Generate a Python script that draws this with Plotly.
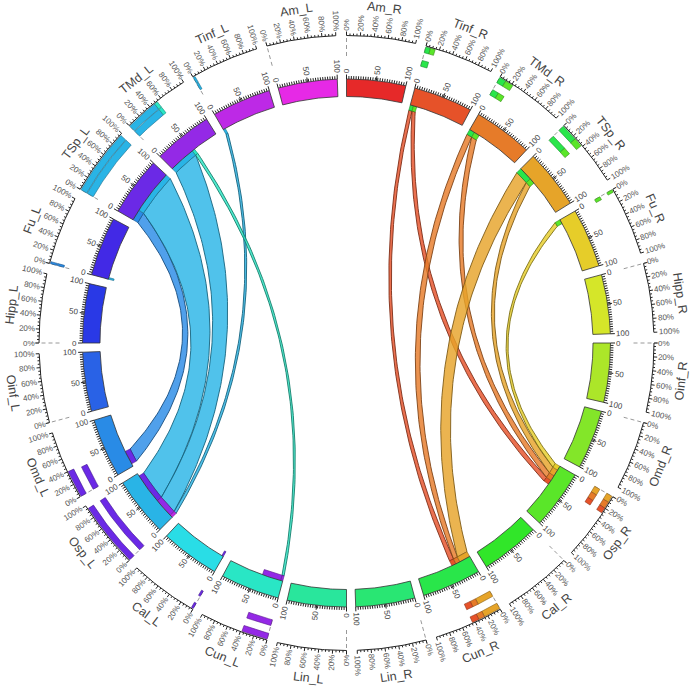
import numpy as np
import plotly.graph_objects as go

# ---------------- data ----------------
segments = ["Am_R", "Tinf_R", "TMd_R", "TSp_R", "Fu_R", "Hipp_R", "Oinf_R", "Omd_R",
            "Osp_R", "Cal_R", "Cun_R", "Lin_R", "Lin_L", "Cun_L", "Cal_L", "Osp_L",
            "Omd_L", "Oinf_L", "Hipp_L", "Fu_L", "TSp_L", "TMd_L", "Tinf_L", "Am_L"]
seg_colors = ["#E62929", "#E65229", "#E67B29", "#E6A429", "#E6CD29", "#D5E629",
              "#ACE629", "#83E629", "#5AE629", "#31E629", "#29E64A", "#29E673",
              "#29E69C", "#29E6C5", "#29DDE6", "#29B4E6", "#298BE6", "#2962E6",
              "#2939E6", "#4229E6", "#6B29E6", "#9429E6", "#BD29E6", "#E629E6"]
seg_tick_labels = [0, 50, 100]
seg_minor_ticks = list(range(0, 101, 4)) + [50]
pct_values = [0, 20, 40, 60, 80, 100]
pct_labels = ["0%", "20%", "40%", "60%", "80%", "100%"]
pct_minor = list(range(0, 101, 5))

# chords: end A (segment, start, end) -> end B (segment, start, end), coloured by chord_col
chord_a_seg = ["TSp_L", "TSp_L", "TMd_L", "Tinf_L", "TMd_L",
               "Tinf_R", "Tinf_R", "TMd_R", "TMd_R", "TSp_R", "TSp_R", "Fu_R"]
chord_a_start = [0, 20, 0, 0, 48, 0, 6, 0, 10, 0, 25, 0]
chord_a_end = [20, 100, 48, 4, 53, 6, 12, 10, 20, 25, 35, 8]
chord_b_seg = ["Omd_L", "Osp_L", "Osp_L", "Osp_L", "Cun_L",
               "Cun_R", "Osp_R", "Cun_R", "Osp_R", "Cun_R", "Osp_R", "Osp_R"]
chord_b_start = [5, 40, 5, 0, 0, 28, 30, 20, 20, 0, 8, 0]
chord_b_end = [30, 95, 40, 5, 4, 36, 38, 28, 30, 20, 20, 8]
chord_col = ["Omd_L", "Osp_L", "Osp_L", "Osp_L", "Cun_L",
             "Tinf_R", "Tinf_R", "TMd_R", "TMd_R", "TSp_R", "TSp_R", "Fu_R"]

# extra highlight marks on the inner edge of the ideogram
mark_seg = ["Cun_L", "Cal_L", "Fu_L"]
mark_start = [4, 0, 0]
mark_end = [38, 3, 3]
mark_col = ["TMd_L", "TSp_L", "Osp_L"]

# outer percentage track bars (lane 1/2: outer/inner separated, 3/4: outer/inner adjacent)
bar_seg = ["Tinf_L", "Tinf_L", "TMd_L", "TMd_L", "TMd_L", "TMd_L", "TSp_L", "TSp_L",
           "Fu_L", "Fu_L", "Omd_L", "Omd_L", "Osp_L", "Osp_L", "Cal_L", "Cal_L",
           "Cun_L", "Cun_L",
           "Tinf_R", "Tinf_R", "Tinf_R", "TMd_R", "TMd_R", "TMd_R", "TMd_R",
           "TSp_R", "TSp_R", "TSp_R", "TSp_R", "Fu_R", "Fu_R",
           "Osp_R", "Osp_R", "Osp_R", "Osp_R", "Osp_R", "Osp_R",
           "Cun_R", "Cun_R", "Cun_R", "Cun_R", "Cun_R", "Cun_R"]
bar_start = [0, 0, 0, 0, 48, 48, 0, 0,
             0, 0, 0, 0, 0, 0, 0, 0,
             0, 0,
             0, 7, 0, 0, 10, 0, 10,
             0, 25, 0, 25, 0, 0,
             0, 10, 20, 0, 10, 20,
             0, 25, 34, 0, 25, 34]
bar_end = [3, 3, 48, 48, 53, 53, 97, 97,
           3, 3, 40, 38, 95, 95, 3, 3,
           38, 38,
           7, 14, 10, 10, 22, 10, 20,
           25, 38, 25, 36, 4, 5,
           10, 20, 28, 10, 20, 28,
           25, 34, 44, 25, 34, 44]
bar_lane = [3, 4, 3, 4, 3, 4, 3, 4,
            3, 4, 1, 2, 1, 2, 1, 2,
            1, 2,
            1, 1, 2, 1, 1, 2, 2,
            1, 1, 2, 2, 1, 2,
            1, 1, 1, 2, 2, 2,
            1, 1, 1, 2, 2, 2]
bar_col = ["Osp_L", "Osp_L", "Osp_L", "Osp_L", "Cun_L", "Cun_L", "Osp_L", "Osp_L",
           "Omd_L", "Omd_L", "TSp_L", "TSp_L", "TSp_L", "TSp_L", "TSp_L", "TSp_L",
           "TMd_L", "TMd_L",
           "Cun_R", "Osp_R", "Cun_R", "Cun_R", "Osp_R", "Cun_R", "Osp_R",
           "Cun_R", "Osp_R", "Cun_R", "Osp_R", "Osp_R", "Osp_R",
           "TSp_R", "TMd_R", "Tinf_R", "TSp_R", "TMd_R", "Tinf_R",
           "TSp_R", "TMd_R", "Tinf_R", "TSp_R", "TMd_R", "Tinf_R"]

# ---------------- geometry ----------------
CX, CY = 346.5, 343.0
STEP, SPAN = 15.0, 13.0
R_IN, R_OUT = 246.5, 264.0
R_CH = 241.0
R_AX = 307.5
LANES = {1: (300.5, 306.5), 2: (286.5, 292.5), 3: (300.0, 306.5), 4: (292.5, 299.5)}
R_NAME = 337.0
# bezier control-point radius (fraction of chord radius) vs angular distance of the ends
BZ_D = [0, 56, 65, 84, 96, 105, 126, 140, 180]
BZ_F = [1.0, 0.48, 0.45, 0.38, 0.32, 0.27, 0.08, 0.03, 0.0]
col_of = dict(zip(segments, seg_colors))


def ang(seg, v):
    return segments.index(seg) * STEP + v / 100.0 * SPAN


def pol(th, r):
    t = np.radians(th)
    return CX + r * np.sin(t), CY - r * np.cos(t)


def arc(t0, t1, r, step=0.4):
    n = max(2, int(abs(t1 - t0) / step) + 1)
    return pol(np.linspace(t0, t1, n), r)


def band(t0, t1, r0, r1):
    xo, yo = arc(t0, t1, r1)
    xi, yi = arc(t1, t0, r0)
    return (np.concatenate([xo, xi, xo[:1]]), np.concatenate([yo, yi, yo[:1]]))


def rgb(h):
    h = h.lstrip('#')
    return tuple(int(h[i:i + 2], 16) for i in (0, 2, 4))


def rgba(h, a):
    r, g, b = rgb(h)
    return f"rgba({r},{g},{b},{a})"


def dark(h, f=0.6):
    r, g, b = rgb(h)
    return f"rgb({int(r*f)},{int(g*f)},{int(b*f)})"


def bez(tA, tB, R, n=90):
    pA = np.array(pol(tA, R))
    pB = np.array(pol(tB, R))
    d = abs((tA - tB + 180) % 360 - 180)
    ua = np.array([np.sin(np.radians(tA)), -np.cos(np.radians(tA))])
    ub = np.array([np.sin(np.radians(tB)), -np.cos(np.radians(tB))])
    bis = ua + ub
    nb = np.linalg.norm(bis)
    rc = R * np.interp(d, BZ_D, BZ_F)
    c = np.array([CX, CY]) + (bis / nb * rc if nb > 1e-6 else 0)
    t = np.linspace(0, 1, n)[:, None]
    pts = (1 - t) ** 2 * pA[None, :] + 2 * (1 - t) * t * c[None, :] + t ** 2 * pB[None, :]
    return pts[:, 0], pts[:, 1]


fig = go.Figure()


def poly(x, y, fill, line, width=0.8):
    fig.add_trace(go.Scatter(x=x, y=y, mode='lines', fill='toself', fillcolor=fill,
                             line=dict(color=line, width=width), hoverinfo='skip'))


# dashed zero lines of the outer track
dx, dy = [], []
for s in segments:
    x, y = pol(np.array([ang(s, 0), ang(s, 0)]), np.array([287.0, 312.0]))
    dx += list(x) + [None]
    dy += list(y) + [None]
fig.add_trace(go.Scatter(x=dx, y=dy, mode='lines', line=dict(color='#999', width=1, dash='4px,3px'),
                         hoverinfo='skip'))

# chords
for i in range(len(chord_a_seg)):
    ta0, ta1 = ang(chord_a_seg[i], chord_a_start[i]), ang(chord_a_seg[i], chord_a_end[i])
    tb0, tb1 = ang(chord_b_seg[i], chord_b_start[i]), ang(chord_b_seg[i], chord_b_end[i])
    x1, y1 = arc(ta0, ta1, R_CH)
    x2, y2 = bez(ta1, tb0, R_CH)
    x3, y3 = arc(tb0, tb1, R_CH)
    x4, y4 = bez(tb1, ta0, R_CH)
    x = np.concatenate([x1, x2, x3, x4])
    y = np.concatenate([y1, y2, y3, y4])
    c = col_of[chord_col[i]]
    poly(x, y, rgba(c, 0.82), dark(c, 0.55), 0.9)

# markers at chord ends
for i in range(len(chord_a_seg)):
    for s, v0, v1, other in ((chord_a_seg[i], chord_a_start[i], chord_a_end[i], chord_b_seg[i]),
                             (chord_b_seg[i], chord_b_start[i], chord_b_end[i], chord_a_seg[i])):
        x, y = band(ang(s, v0), ang(s, v1), R_CH, R_IN)
        c = col_of[other]
        poly(x, y, c, dark(c, 0.6), 0.6)
for i in range(len(mark_seg)):
    x, y = band(ang(mark_seg[i], mark_start[i]), ang(mark_seg[i], mark_end[i]), R_CH, R_IN + 3)
    c = col_of[mark_col[i]]
    poly(x, y, c, dark(c, 0.6), 0.6)

# ideogram
for s, c in zip(segments, seg_colors):
    x, y = band(ang(s, 0), ang(s, 100), R_IN, R_OUT)
    poly(x, y, c, '#333', 0.8)

# ideogram ticks
tx, ty = [], []
for s in segments:
    for v in seg_minor_ticks:
        L = 4.5 if v in seg_tick_labels else 3.0
        x, y = pol(np.array([ang(s, v)] * 2), np.array([R_OUT, R_OUT + L]))
        tx += list(x) + [None]
        ty += list(y) + [None]
fig.add_trace(go.Scatter(x=tx, y=ty, mode='lines', line=dict(color='#222', width=1), hoverinfo='skip'))

# outer track bars
for i in range(len(bar_seg)):
    r0, r1 = LANES[bar_lane[i]]
    x, y = band(ang(bar_seg[i], bar_start[i]), ang(bar_seg[i], bar_end[i]), r0, r1)
    c = col_of[bar_col[i]]
    poly(x, y, c, dark(c, 0.6), 0.6)

# percent axes
ax, ay = [], []
for s in segments:
    x, y = arc(ang(s, 0), ang(s, 100), R_AX)
    ax += list(x) + [None]
    ay += list(y) + [None]
    for v in pct_minor:
        L = 3.5 if v in pct_values else 2.0
        x, y = pol(np.array([ang(s, v)] * 2), np.array([R_AX, R_AX + L]))
        ax += list(x) + [None]
        ay += list(y) + [None]
fig.add_trace(go.Scatter(x=ax, y=ay, mode='lines', line=dict(color='#222', width=1), hoverinfo='skip'))

# ---------------- text ----------------
anns = []


def text_w(t, size):
    w = 0
    for ch in t:
        w += 0.89 if ch == '%' else 0.56
    return w * size


def radial(theta, r0, text, size, color):
    L = text_w(text, size)
    x, y = pol(theta, r0 + L / 2 + 1)
    th = theta % 360
    a = th - 90 if th < 180 else th - 270
    anns.append(dict(x=x, y=y, xref='x', yref='y', text=text, showarrow=False, textangle=a,
                     font=dict(size=size, color=color, family='Liberation Sans, Arial'),
                     xanchor='center', yanchor='middle', borderpad=0))


def tangential(theta, r, text, size, color):
    x, y = pol(theta, r)
    th = theta % 360
    a = th if (th >= 270 or th < 90) else th - 180
    if a > 180:
        a -= 360
    anns.append(dict(x=x, y=y, xref='x', yref='y', text=text, showarrow=False, textangle=a,
                     font=dict(size=size, color=color, family='Liberation Sans, Arial'),
                     xanchor='center', yanchor='middle', borderpad=0))


for s in segments:
    for v in seg_tick_labels:
        radial(ang(s, v), R_OUT + 5, str(v), 8, '#444')
    for v, lab in zip(pct_values, pct_labels):
        radial(ang(s, v), R_AX + 3.5, lab, 8, '#555')
    tangential(ang(s, 50), R_NAME, s, 12.5, '#444')

fig.update_layout(width=696, height=694, margin=dict(l=0, r=0, t=0, b=0),
                  paper_bgcolor='white', plot_bgcolor='white', showlegend=False,
                  xaxis=dict(range=[0, 696], visible=False, fixedrange=True),
                  yaxis=dict(range=[694, 0], visible=False, fixedrange=True),
                  annotations=anns)
fig.write_html("out.html", config={'displayModeBar': False},
               post_script="document.body.style.margin='0px';document.body.style.overflow='hidden';")
